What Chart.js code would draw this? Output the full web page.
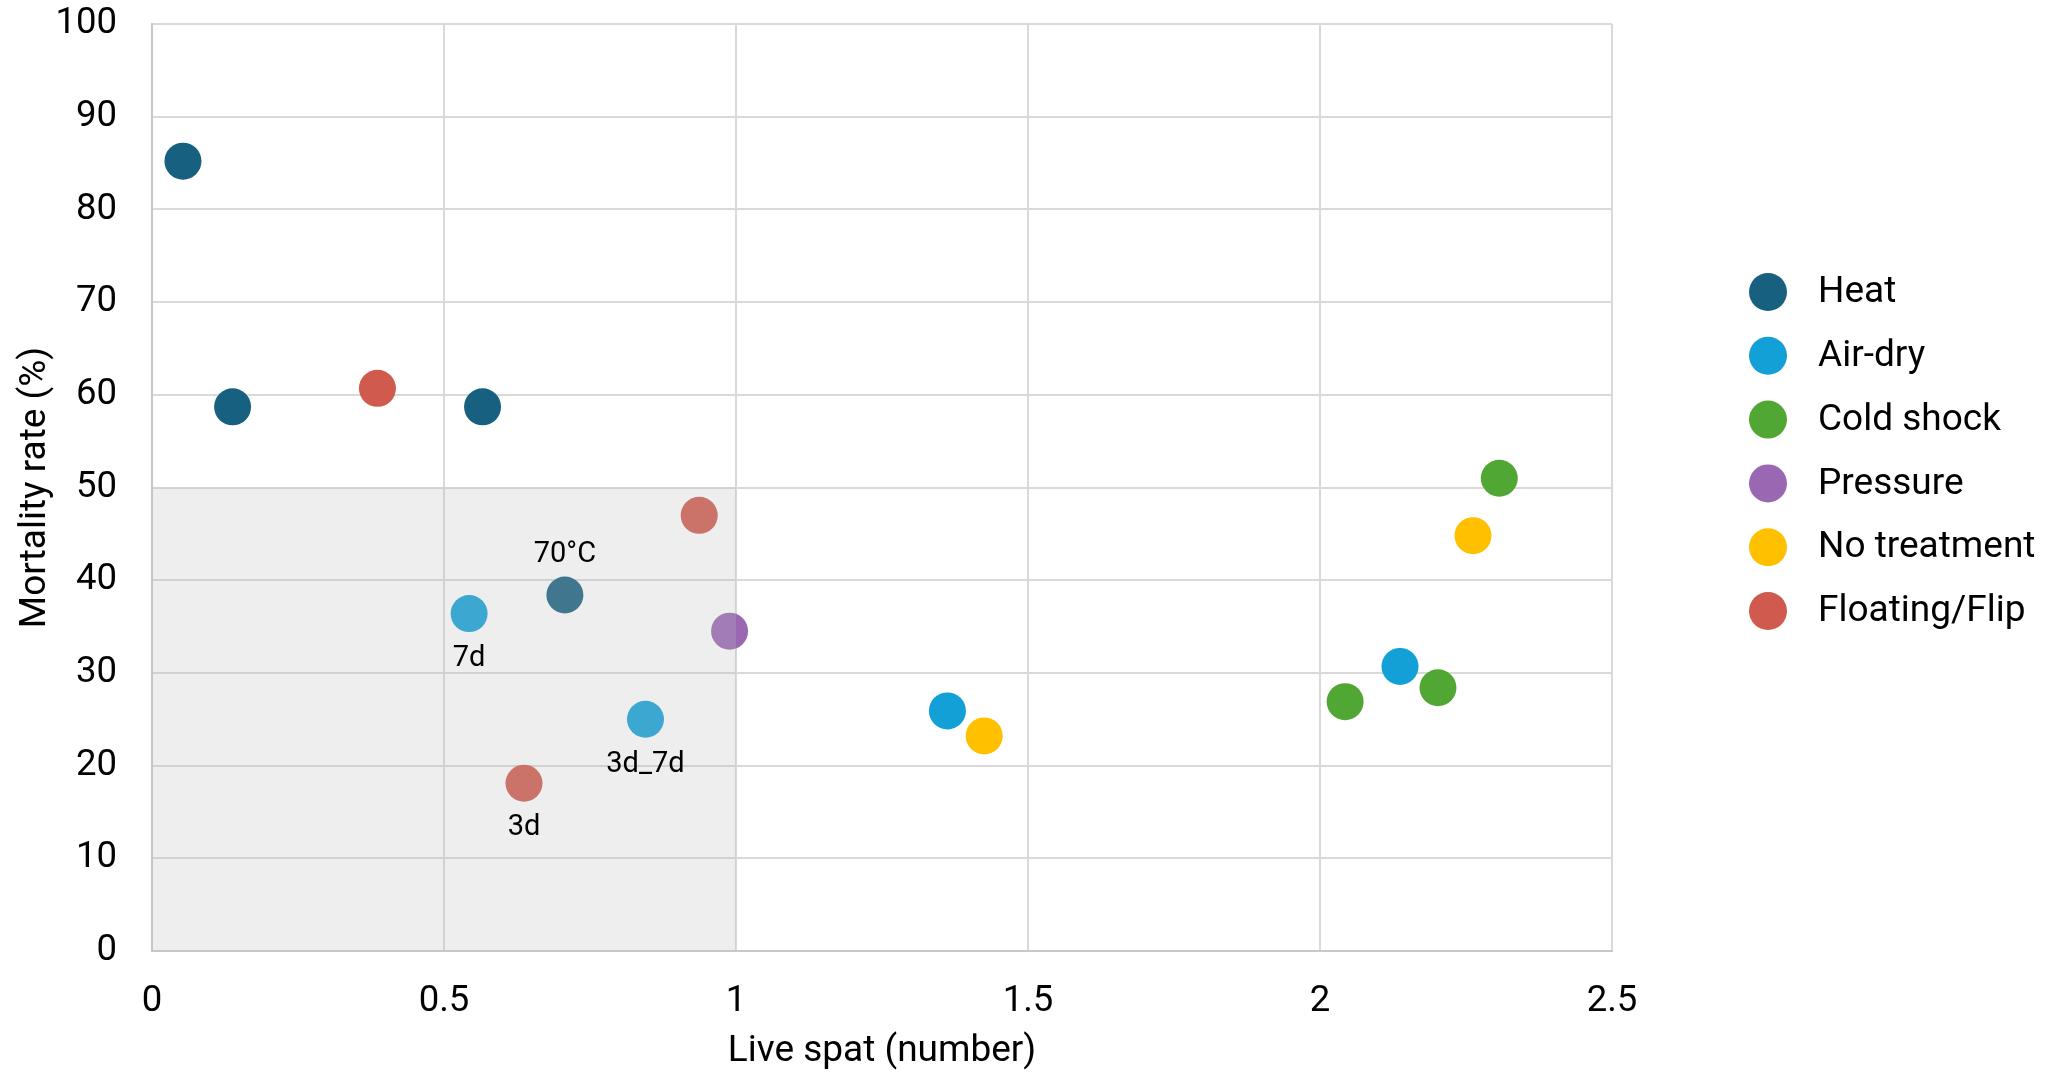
<!DOCTYPE html>
<html>
<head>
<meta charset="utf-8">
<script src="https://cdn.jsdelivr.net/npm/chart.js@4"></script>
<style>
  body { margin: 0; background: #fff; }
  #wrap { width: 2050px; height: 1074px; }
</style>
</head>
<body>
<div id="wrap"><canvas id="chart" width="2050" height="1074"></canvas></div>
<script>
// Data
const seriesNames = ['Heat', 'Air-dry', 'Cold shock', 'Pressure', 'No treatment', 'Floating/Flip'];
const seriesColors = ['#17607f', '#12a0d7', '#51a733', '#9a68b3', '#ffc000', '#d05a4e'];

const heatX = [0.053, 0.138, 0.566, 0.707];
const heatY = [85.2, 58.7, 58.7, 38.4];
const heatLabels = ['', '', '', '70°C'];

const airDryX = [0.543, 0.845, 1.362, 2.137];
const airDryY = [36.4, 25.0, 25.9, 30.7];
const airDryLabels = ['7d', '3d_7d', '', ''];

const coldShockX = [2.043, 2.202, 2.307];
const coldShockY = [26.9, 28.4, 51.0];
const coldShockLabels = ['', '', ''];

const pressureX = [0.989];
const pressureY = [34.5];
const pressureLabels = [''];

const noTreatmentX = [1.425, 2.262];
const noTreatmentY = [23.2, 44.8];
const noTreatmentLabels = ['', ''];

const floatingX = [0.386, 0.937, 0.637];
const floatingY = [60.7, 47.0, 18.1];
const floatingLabels = ['', '', '3d'];

// shaded zone (data units)
const shadeX = [0, 1];
const shadeY = [0, 50];

const labelsAbove = ['70°C'];

const allX = [heatX, airDryX, coldShockX, pressureX, noTreatmentX, floatingX];
const allY = [heatY, airDryY, coldShockY, pressureY, noTreatmentY, floatingY];
const allLabels = [heatLabels, airDryLabels, coldShockLabels, pressureLabels, noTreatmentLabels, floatingLabels];

Chart.defaults.font.family = 'Roboto';
Chart.defaults.color = '#000';

function toPoints(xs, ys) {
    return xs.map((x, i) => ({ x: x, y: ys[i] }));
}

const datasets = seriesNames.map((name, i) => ({
    label: name,
    data: toPoints(allX[i], allY[i]),
    pointLabels: allLabels[i],
    backgroundColor: seriesColors[i],
    borderWidth: 0,
    pointRadius: 18.5,
    pointHoverRadius: 18.5
}));

// shaded box over the points, then point labels
const overlayPlugin = {
    id: 'overlay',
    afterDatasetsDraw(chart) {
        const ctx = chart.ctx;
        const xs = chart.scales.x;
        const ys = chart.scales.y;
        const x0 = xs.getPixelForValue(shadeX[0]);
        const x1 = xs.getPixelForValue(shadeX[1]);
        const y0 = ys.getPixelForValue(shadeY[1]);
        const y1 = ys.getPixelForValue(shadeY[0]);
        ctx.save();
        ctx.fillStyle = 'rgba(188,188,188,0.25)';
        ctx.fillRect(x0, y0, x1 - x0, y1 - y0);

        ctx.font = '29px Roboto';
        ctx.fillStyle = '#000';
        ctx.textAlign = 'center';
        ctx.textBaseline = 'middle';
        chart.data.datasets.forEach((ds, di) => {
            const meta = chart.getDatasetMeta(di);
            ds.pointLabels.forEach((txt, pi) => {
                if (!txt) return;
                const el = meta.data[pi];
                const dy = labelsAbove.includes(txt) ? -40 : 45;
                ctx.fillText(txt, el.x, el.y + dy);
            });
        });
        ctx.restore();
    }
};

// legend drawn by hand to match the reference spacing
const legendPlugin = {
    id: 'customLegend',
    afterDraw(chart) {
        const ctx = chart.ctx;
        ctx.save();
        ctx.font = '37px Roboto';
        ctx.textAlign = 'left';
        ctx.textBaseline = 'middle';
        chart.data.datasets.forEach((ds, i) => {
            const cy = 292 + i * 63.8;
            ctx.beginPath();
            ctx.arc(1768, cy, 19, 0, Math.PI * 2);
            ctx.fillStyle = ds.backgroundColor;
            ctx.fill();
            ctx.fillStyle = '#000';
            ctx.fillText(ds.label, 1818, cy + 1);
        });
        ctx.restore();
    }
};

const ctx = document.getElementById('chart').getContext('2d');
const chart = new Chart(ctx, {
    type: 'scatter',
    data: { datasets: datasets },
    options: {
        responsive: false,
        animation: false,
        events: [],
        layout: {
            padding: { top: 24, right: 438, bottom: 0, left: 0 }
        },
        plugins: {
            legend: { display: false },
            tooltip: { enabled: false }
        },
        scales: {
            x: {
                type: 'linear',
                min: 0,
                max: 2.5,
                ticks: {
                    stepSize: 0.5,
                    padding: 29,
                    font: { size: 36.5 },
                    color: '#000',
                    callback: v => String(Number(v.toFixed(1)))
                },
                grid: {
                    color: '#d9d9d9',
                    lineWidth: 2,
                    drawTicks: false
                },
                border: { color: '#c8c8c8', width: 2 },
                title: {
                    display: true,
                    text: 'Live spat (number)',
                    font: { size: 37 },
                    color: '#000',
                    padding: { top: 0, bottom: 0 }
                },
                afterFit(scale) {
                    scale.height = 123;
                    scale.paddingLeft = 0;
                    scale.paddingRight = 0;
                }
            },
            y: {
                type: 'linear',
                min: 0,
                max: 100,
                ticks: {
                    stepSize: 10,
                    padding: 35,
                    font: { size: 36.5 },
                    color: '#000'
                },
                grid: {
                    color: '#d9d9d9',
                    lineWidth: 2,
                    drawTicks: false
                },
                border: { color: '#c8c8c8', width: 2 },
                title: {
                    display: true,
                    text: 'Mortality rate (%)',
                    font: { size: 37 },
                    color: '#000',
                    padding: { top: 14, bottom: 0 }
                },
                afterFit(scale) {
                    scale.width = 152;
                    scale.paddingTop = 0;
                    scale.paddingBottom = 0;
                }
            }
        }
    },
    plugins: [overlayPlugin, legendPlugin]
});
</script>
</body>
</html>
